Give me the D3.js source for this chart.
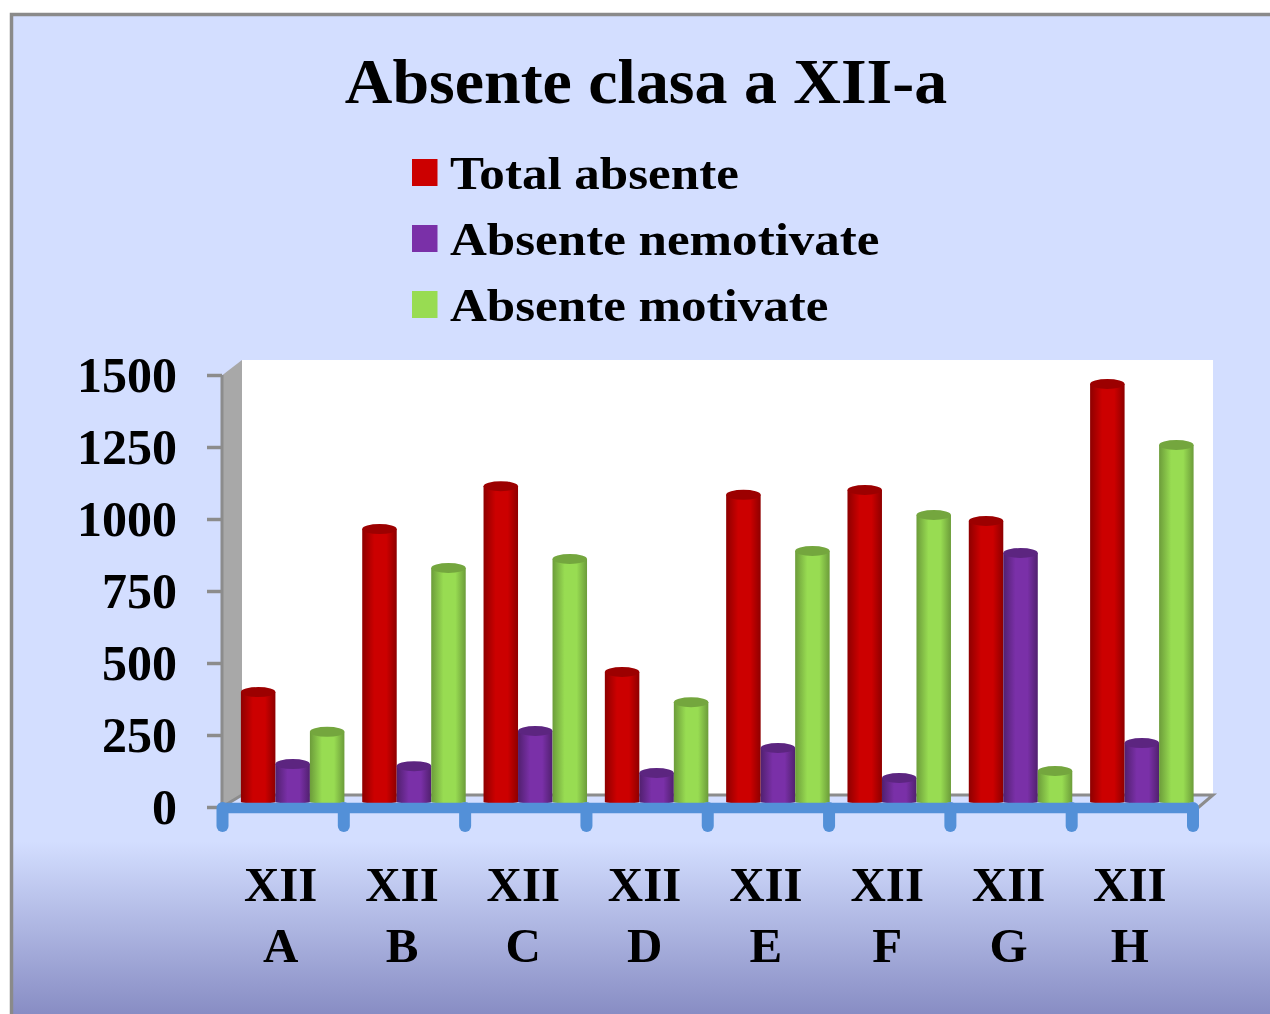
<!DOCTYPE html>
<html><head><meta charset="utf-8">
<script src="https://cdn.jsdelivr.net/npm/d3@7"></script>
<style>html,body{margin:0;padding:0;background:#fff;overflow:hidden}svg{display:block;filter:blur(0.7px)}text{font-family:"Liberation Serif",serif;font-weight:bold;fill:#000}</style>
</head><body><svg id="c" width="1270" height="1014"></svg>
<script>
const title = "Absente clasa a XII-a";
const categories = ["A","B","C","D","E","F","G","H"];
const seriesNames = ["Total absente","Absente nemotivate","Absente motivate"];
const totalAbsente = [385,951,1100,455,1070,1087,979,1455];
const absenteNemotivate = [135,128,250,104,191,87,868,208];
const absenteMotivate = [247,816,847,350,875,1000,111,1243];
const yTicks = [0,250,500,750,1000,1250,1500];
const colors = [
 {main:"#cc0000",dark:"#8e0000",top:"#9c0000"},
 {main:"#7a30a8",dark:"#51206f",top:"#5c2580"},
 {main:"#98dc52",dark:"#6c9c3a",top:"#74a63e"}
];
const series = [totalAbsente,absenteNemotivate,absenteMotivate];

const svg = d3.select("#c");
const defs = svg.append("defs");
const bg = defs.append("linearGradient").attr("id","bg").attr("gradientUnits","userSpaceOnUse").attr("x1",0).attr("x2",0).attr("y1",0).attr("y2",1014);
[[0,"#d3deff"],[0.83,"#d3deff"],[1,"#888dc4"]].forEach(s=>bg.append("stop").attr("offset",s[0]).attr("stop-color",s[1]));
colors.forEach((c,i)=>{
  const g = defs.append("linearGradient").attr("id","cyl"+i);
  [[0,c.dark],[0.35,c.main],[0.7,c.main],[1,c.dark]].forEach(s=>g.append("stop").attr("offset",s[0]).attr("stop-color",s[1]));
});

// frame
svg.append("rect").attr("x",11.5).attr("y",14.5).attr("width",1270).attr("height",1014).attr("fill","url(#bg)").attr("stroke","#8a8a8a").attr("stroke-width",3.5);

svg.append("text").attr("transform","translate(646,103) scale(1.03,1)").attr("text-anchor","middle").attr("font-size",64).text(title);

// legend
const ly = d3.scalePoint().domain(seriesNames).range([173,305]);
seriesNames.forEach((n,i)=>{
  svg.append("rect").attr("x",412).attr("y",ly(n)-14).attr("width",25.5).attr("height",27).attr("fill",colors[i].main);
  svg.append("text").attr("transform",`translate(450,${ly(n)+16}) scale(1.11,1)`).attr("font-size",46).text(n);
});

// scales
const y = d3.scaleLinear().domain([0,1500]).range([807,375]);
const x = d3.scaleBand().domain(categories).range([222.5,1193]);
const barShift = 9.5, baseLift = 4;
const inner = d3.scaleBand().domain(d3.range(3)).range([0,103.5]);
const barStart = (x.bandwidth()-103.5)/2 + barShift;

// walls
svg.append("path").attr("fill","#fff").attr("d",`M242,360H1213V795H242Z`);
svg.append("path").attr("fill","#a8a8a8").attr("d",`M${x.range()[0]},375L242,360V795L${x.range()[0]},807Z`);
svg.append("path").attr("fill","none").attr("stroke","#8c8c8c").attr("stroke-width",3)
  .attr("d",`M222,375V807M222,807L242,795H1213L1193,812`);
// y axis
const yAxis = svg.append("g").attr("transform","translate(222,0)").call(d3.axisLeft(y).tickValues(yTicks).tickSize(15).tickPadding(30).tickFormat(d3.format("d")));
yAxis.select(".domain").remove();
yAxis.selectAll("line").attr("stroke","#8c8c8c").attr("stroke-width",3.5);
yAxis.selectAll("text").attr("font-size",50).attr("dy","0.33em").attr("x",-45);

// bars
series.forEach((vals,si)=>{
  const w = inner.bandwidth(), rx = w/2, ry = 5;
  const g = svg.append("g");
  g.selectAll("path.b").data(vals).join("path").attr("class","b").attr("fill",`url(#cyl${si})`)
   .attr("d",(v,i)=>{
     const x0 = x(categories[i])+barStart+inner(si), top = y(v)-baseLift, bot = y(0)-baseLift;
     return `M${x0},${top}V${bot-1}A${rx},1.5 0 0 0 ${x0+w},${bot-1}V${top}Z`;
   });
  g.selectAll("ellipse").data(vals).join("ellipse").attr("fill",colors[si].top)
   .attr("cx",(v,i)=>x(categories[i])+barStart+inner(si)+rx).attr("cy",v=>y(v)-baseLift).attr("rx",rx).attr("ry",ry);
});

// blue axis
const edges = categories.map(c=>x(c)).concat([x.range()[1]]);
svg.append("path").attr("fill","none").attr("stroke","#5390d8").attr("stroke-width",10.5).attr("stroke-linejoin","round")
  .attr("d",`M${x.range()[0]},808H${x.range()[1]}`);
svg.selectAll("line.t").data(edges).join("line").attr("class","t").attr("x1",d=>d).attr("x2",d=>d).attr("y1",808).attr("y2",826)
  .attr("stroke","#5390d8").attr("stroke-width",12).attr("stroke-linecap","round");

// category labels
categories.forEach(c=>{
  const cx = x(c)+x.bandwidth()/2-2.5;
  svg.append("text").attr("x",cx).attr("y",901).attr("text-anchor","middle").attr("font-size",49).text("XII");
  svg.append("text").attr("x",cx).attr("y",962).attr("text-anchor","middle").attr("font-size",49).text(c);
});
</script></body></html>
